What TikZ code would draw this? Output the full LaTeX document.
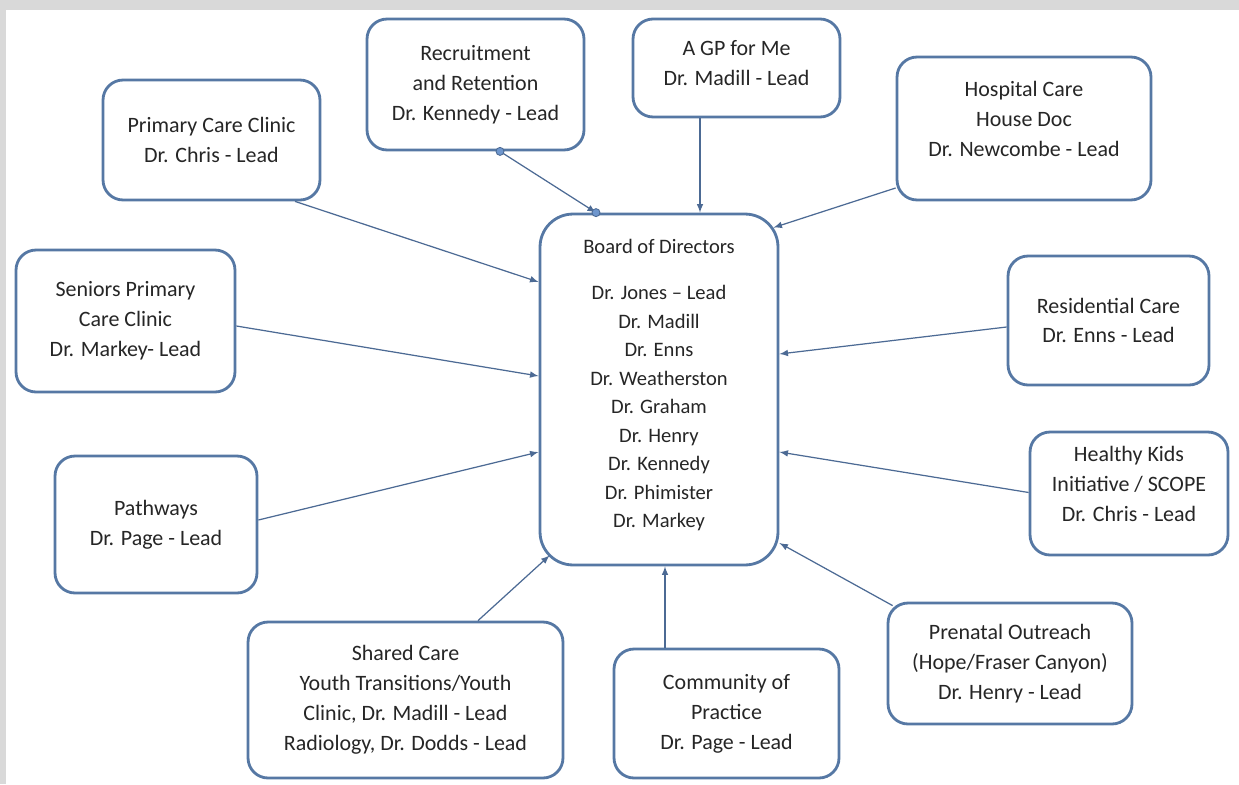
\documentclass[tikz,border=0pt]{standalone}
\usepackage{fontspec}
\setmainfont{Carlito}
\usetikzlibrary{arrows}

\definecolor{boxblue}{RGB}{86,120,164}
\definecolor{linkblue}{RGB}{76,106,148}
\definecolor{dotblue}{RGB}{110,150,205}
\definecolor{framegray}{RGB}{217,217,217}

\begin{document}
\begin{tikzpicture}[x=0.02cm, y=-0.02cm, >=latex,
  unit/.style={draw=boxblue, line width=1.6pt, rounded corners=0.4cm, fill=white,
    align=center, inner sep=0pt, text=black!85, font=\fontsize{12.5}{17}\selectfont},
  link/.style={->, draw=linkblue, line width=0.7pt}]

\fill[framegray] (0,0) rectangle (1239,784);
\fill[white] (6,10) rectangle (1239,784);
\useasboundingbox (0,0) rectangle (1239,784);

\node (board) at (659,389.5) [unit, rounded corners=0.66cm, minimum width=4.76cm, minimum height=7.02cm,
  font=\fontsize{11.7}{16.2}\selectfont]
  {Board of Directors\\[10.4pt]
   Dr. Jones -- Lead\\ Dr. Madill\\ Dr. Enns\\ Dr. Weatherston\\ Dr. Graham\\
   Dr. Henry\\ Dr. Kennedy\\ Dr. Phimister\\ Dr. Markey\\[-9.1pt]\mbox{}};

\node (pcc) at (211.5,140) [unit, minimum width=4.34cm, minimum height=2.4cm]
  {Primary Care Clinic\\ Dr. Chris - Lead};
\node (rr) at (475.5,84.5) [unit, minimum width=4.34cm, minimum height=2.62cm]
  {Recruitment\\ and Retention\\ Dr. Kennedy - Lead};
\node (gp) at (736.5,68) [unit, minimum width=4.14cm, minimum height=1.96cm]
  {A GP for Me\\ Dr. Madill - Lead\\[-11.4pt]\mbox{}};
\node (hosp) at (1024,128.5) [unit, minimum width=5.08cm, minimum height=2.86cm]
  {Hospital Care\\ House Doc\\ Dr. Newcombe - Lead\\[-5.7pt]\mbox{}};
\node (sen) at (125.5,321) [unit, minimum width=4.38cm, minimum height=2.84cm]
  {Seniors Primary\\ Care Clinic\\ Dr. Markey- Lead};
\node (path) at (156,524.5) [unit, minimum width=4.04cm, minimum height=2.74cm]
  {Pathways\\ Dr. Page - Lead};
\node (res) at (1108.5,320.5) [unit, minimum width=4.02cm, minimum height=2.58cm]
  {Residential Care\\ Dr. Enns - Lead};
\node (hk) at (1129,493.5) [unit, minimum width=3.96cm, minimum height=2.46cm]
  {Healthy Kids\\ Initiative / SCOPE\\ Dr. Chris - Lead\\[-5.7pt]\mbox{}};
\node (pre) at (1010,663.5) [unit, minimum width=4.88cm, minimum height=2.42cm]
  {Prenatal Outreach\\ (Hope/Fraser Canyon)\\ Dr. Henry - Lead};
\node (cop) at (726.5,713.5) [unit, minimum width=4.5cm, minimum height=2.58cm]
  {Community of\\ Practice\\ Dr. Page - Lead};
\node (sc) at (405.5,700) [unit, minimum width=6.3cm, minimum height=3.12cm]
  {Shared Care\\ Youth Transitions/Youth\\ Clinic, Dr. Madill - Lead\\ Radiology, Dr. Dodds - Lead};

% links into the board
\draw[link] ([shift={(83.5,0)}]pcc.south) -- ([shift={(0,-107.5)}]board.west);
\draw[link] ([shift={(-36.5,0)}]gp.south) -- ([shift={(41,0)}]board.north);
\draw[link] ([shift={(0,59.5)}]hosp.west) -- ([shift={(-6,15)}]board.north east);
\draw[link] ([shift={(0,5)}]sen.east) -- ([shift={(0,-13.5)}]board.west);
\draw[link] ([shift={(0,-4.5)}]path.east) -- ([shift={(0,62.5)}]board.west);
\draw[link] ([shift={(0,6.5)}]res.west) -- ([shift={(0,-35.5)}]board.east);
\draw[link] ([shift={(0,-1)}]hk.west) -- ([shift={(0,62.5)}]board.east);
\draw[link] ([shift={(6,4)}]pre.north west) -- ([shift={(0,153.5)}]board.east);
\draw[link] ([shift={(-61.5,0)}]cop.north) -- ([shift={(6,0)}]board.south);
\draw[link] ([shift={(72.5,0)}]sc.north) -- ([shift={(11,-11)}]board.south west);

% the selected one, with its handles
\coordinate (rrfoot) at ([shift={(24.5,0)}]rr.south);
\coordinate (rrhead) at ([shift={(-63,0)}]board.north);
\draw[link] (rrfoot) -- (rrhead);
\filldraw[fill=dotblue, draw=linkblue, line width=0.5pt] (rrfoot) circle[radius=0.08cm];
\filldraw[fill=dotblue, draw=linkblue, line width=0.5pt] (rrhead) circle[radius=0.08cm];

\end{tikzpicture}
\end{document}
